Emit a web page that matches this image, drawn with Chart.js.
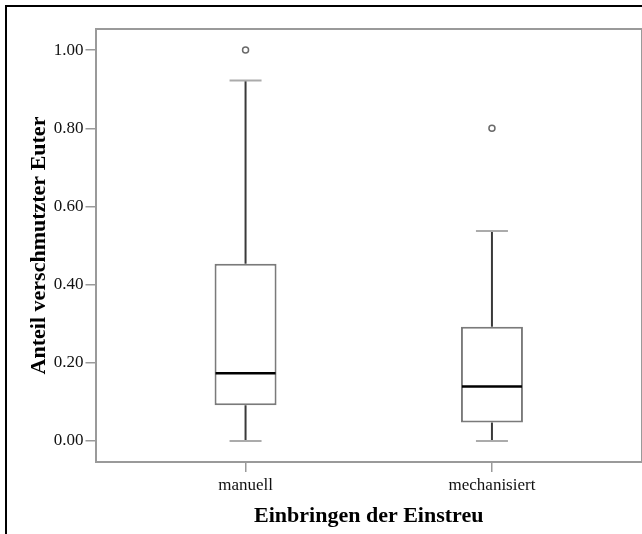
<!DOCTYPE html>
<html>
<head>
<meta charset="utf-8">
<title>Anteil verschmutzter Euter</title>
<script src="https://cdn.jsdelivr.net/npm/chart.js@4.4.1/dist/chart.umd.min.js"></script>
<style>
    html, body {
        margin: 0;
        padding: 0;
        background: #fff;
        overflow: hidden;
    }
    #chart {
        display: block;
    }
</style>
</head>
<body>
<canvas id="chart" width="642" height="534"></canvas>
<script>
// Box plot figures
const categories = ['manuell', 'mechanisiert'];
const minValues = [0.0, 0.0];
const q1Values = [0.091, 0.047];
const medianValues = [0.173, 0.139];
const q3Values = [0.453, 0.292];
const maxValues = [0.922, 0.537];
const outlierValues = [[1.0], [0.80]];
const yTicks = [0.0, 0.2, 0.4, 0.6, 0.8, 1.0];

const FONT = "'Liberation Serif', 'Times New Roman', serif";
const AXIS_GREY = '#9a9a9a';

// Build datasets from the arrays
const boxData = categories.map((c, i) => ({ x: i, y: [q1Values[i], q3Values[i]] }));
const whiskerData = [];
const capData = [];
categories.forEach((c, i) => {
    whiskerData.push({ x: i, y: [q3Values[i], maxValues[i]] });
    whiskerData.push({ x: i, y: [minValues[i], q1Values[i]] });
    capData.push({ x: i, y: maxValues[i] });
    capData.push({ x: i, y: minValues[i] });
});
const medianData = categories.map((c, i) => ({ x: i, y: medianValues[i] }));
const outlierData = [];
outlierValues.forEach((list, i) => list.forEach(v => outlierData.push({ x: i, y: v })));

// Plot frame (top/right edge) and the black figure frame, cut at right and bottom
const frames = {
    id: 'frames',
    afterDraw(chart) {
        const { ctx, chartArea } = chart;
        ctx.save();
        ctx.strokeStyle = AXIS_GREY;
        ctx.lineWidth = 2;
        ctx.beginPath();
        ctx.moveTo(chartArea.left, chartArea.top);
        ctx.lineTo(chartArea.right, chartArea.top);
        ctx.lineTo(chartArea.right, chartArea.bottom);
        ctx.stroke();

        ctx.fillStyle = '#000';
        ctx.fillRect(5, 5, chart.width, 2);
        ctx.fillRect(5, 5, 2, chart.height);
        ctx.restore();
    }
};

function noPadding(axis) {
    axis.paddingLeft = 0;
    axis.paddingRight = 0;
    axis.paddingTop = 0;
    axis.paddingBottom = 0;
}

const ctx = document.getElementById('chart').getContext('2d');
new Chart(ctx, {
    type: 'bar',
    data: {
        datasets: [
            {
                label: 'whiskers',
                data: whiskerData,
                backgroundColor: '#3a3a3a',
                borderWidth: 0,
                grouped: false,
                maxBarThickness: 2,
                order: 3
            },
            {
                label: 'box',
                data: boxData,
                backgroundColor: '#ffffff',
                borderColor: '#7a7a7a',
                borderWidth: 2,
                borderSkipped: false,
                grouped: false,
                maxBarThickness: 62,
                order: 2
            },
            {
                type: 'scatter',
                label: 'caps',
                data: capData,
                pointStyle: 'line',
                pointRadius: 16,
                borderColor: '#ababab',
                borderWidth: 2,
                order: 1
            },
            {
                type: 'scatter',
                label: 'median',
                data: medianData,
                pointStyle: 'line',
                pointRadius: 30,
                borderColor: '#000000',
                borderWidth: 2.5,
                order: 1
            },
            {
                type: 'scatter',
                label: 'outliers',
                data: outlierData,
                pointStyle: 'circle',
                pointRadius: 3,
                backgroundColor: '#ffffff',
                borderColor: '#6a6a6a',
                borderWidth: 1.5,
                order: 1
            }
        ]
    },
    options: {
        responsive: false,
        animation: false,
        events: [],
        layout: {
            autoPadding: false,
            padding: { left: 20, top: 29, right: -2, bottom: 0 }
        },
        plugins: {
            legend: { display: false },
            tooltip: { enabled: false }
        },
        scales: {
            x: {
                type: 'linear',
                offset: false,
                min: -0.609,
                max: 1.609,
                afterBuildTicks: axis => {
                    axis.ticks = categories.map((c, i) => ({ value: i }));
                },
                afterFit: axis => {
                    axis.height = 72;
                    noPadding(axis);
                },
                grid: {
                    offset: false,
                    drawOnChartArea: false,
                    drawTicks: true,
                    tickLength: 10,
                    color: AXIS_GREY,
                    lineWidth: 1.5
                },
                border: { display: true, color: AXIS_GREY, width: 2 },
                ticks: {
                    color: '#111',
                    padding: 3,
                    maxRotation: 0,
                    font: { family: FONT, size: 17 },
                    callback: value => categories[value] ?? ''
                },
                title: {
                    display: true,
                    text: 'Einbringen der Einstreu',
                    color: '#000',
                    padding: { top: 0, bottom: 4 },
                    font: { family: FONT, size: 22, weight: 'bold' }
                }
            },
            y: {
                min: -0.054,
                max: 1.054,
                afterBuildTicks: axis => {
                    axis.ticks = yTicks.map(v => ({ value: v }));
                },
                afterFit: axis => {
                    axis.width = 75.5;
                    noPadding(axis);
                },
                grid: {
                    drawOnChartArea: false,
                    drawTicks: true,
                    tickLength: 10,
                    color: AXIS_GREY,
                    lineWidth: 1.5
                },
                border: { display: true, color: AXIS_GREY, width: 2 },
                ticks: {
                    color: '#111',
                    padding: 2,
                    font: { family: FONT, size: 17 },
                    callback: value => Number(value).toFixed(2)
                },
                title: {
                    display: true,
                    text: 'Anteil verschmutzter Euter',
                    color: '#000',
                    padding: { top: 6, bottom: 0 },
                    font: { family: FONT, size: 22, weight: 'bold' }
                }
            }
        }
    },
    plugins: [frames]
});
</script>
</body>
</html>
